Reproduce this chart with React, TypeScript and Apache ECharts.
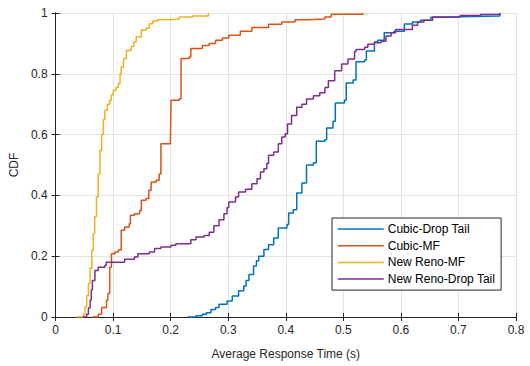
import React, { useEffect, useRef } from "react";
import * as echarts from "echarts";

const seriesNames = ["Cubic-Drop Tail", "Cubic-MF", "New Reno-MF", "New Reno-Drop Tail"];
const xTicks = [0, 0.1, 0.2, 0.3, 0.4, 0.5, 0.6, 0.7, 0.8];
const yTicks = [0, 0.2, 0.4, 0.6, 0.8, 1];

const cubicDropTailX = [0.229, 0.244, 0.255, 0.262, 0.27, 0.278, 0.284, 0.298, 0.307, 0.318, 0.327, 0.331, 0.336, 0.344, 0.349, 0.353, 0.362, 0.37, 0.379, 0.387, 0.402, 0.405, 0.413, 0.419, 0.428, 0.436, 0.448, 0.453, 0.468, 0.471, 0.482, 0.486, 0.502, 0.505, 0.517, 0.522, 0.537, 0.54, 0.554, 0.56, 0.571, 0.588, 0.606, 0.62, 0.634, 0.652, 0.686, 0.703, 0.772];
const cubicDropTailY = [0, 0.004, 0.009, 0.014, 0.025, 0.031, 0.042, 0.053, 0.069, 0.086, 0.102, 0.12, 0.14, 0.168, 0.185, 0.2, 0.222, 0.238, 0.26, 0.293, 0.304, 0.342, 0.353, 0.408, 0.441, 0.5, 0.507, 0.578, 0.583, 0.622, 0.644, 0.704, 0.713, 0.77, 0.78, 0.84, 0.845, 0.875, 0.905, 0.91, 0.935, 0.94, 0.964, 0.97, 0.976, 0.986, 0.988, 0.99, 1.0];

const cubicMfX = [0.063, 0.074, 0.08, 0.0885, 0.091, 0.094, 0.097, 0.103, 0.109, 0.114, 0.12, 0.128, 0.13, 0.137, 0.146, 0.149, 0.157, 0.162, 0.166, 0.175, 0.18, 0.183, 0.1995, 0.2006, 0.215, 0.218, 0.232, 0.235, 0.255, 0.267, 0.278, 0.29, 0.301, 0.321, 0.341, 0.37, 0.393, 0.416, 0.439, 0.468, 0.479, 0.534];
const cubicMfY = [0, 0.009, 0.031, 0.055, 0.077, 0.164, 0.208, 0.214, 0.22, 0.285, 0.296, 0.307, 0.335, 0.34, 0.35, 0.384, 0.39, 0.417, 0.444, 0.45, 0.47, 0.57, 0.576, 0.713, 0.718, 0.85, 0.855, 0.883, 0.893, 0.9, 0.91, 0.918, 0.927, 0.94, 0.952, 0.963, 0.97, 0.978, 0.98, 0.987, 0.996, 1.0];

const newRenoMfX = [0.037, 0.049, 0.051, 0.054, 0.057, 0.06, 0.063, 0.0655, 0.068, 0.071, 0.074, 0.077, 0.08, 0.083, 0.0857, 0.09, 0.094, 0.097, 0.1, 0.105, 0.109, 0.112, 0.114, 0.118, 0.123, 0.1316, 0.136, 0.14, 0.149, 0.157, 0.163, 0.169, 0.1776, 0.1977, 0.215, 0.238, 0.2655];
const newRenoMfY = [0, 0.01, 0.033, 0.07, 0.11, 0.16, 0.22, 0.275, 0.33, 0.395, 0.47, 0.548, 0.6, 0.65, 0.68, 0.7, 0.713, 0.73, 0.745, 0.755, 0.768, 0.8, 0.822, 0.85, 0.877, 0.89, 0.905, 0.921, 0.943, 0.95, 0.965, 0.974, 0.978, 0.98, 0.987, 0.99, 1.0];

const newRenoDropTailX = [0.047, 0.054, 0.057, 0.06, 0.062, 0.064, 0.0684, 0.074, 0.0857, 0.088, 0.12, 0.137, 0.143, 0.163, 0.172, 0.183, 0.2006, 0.209, 0.235, 0.244, 0.258, 0.267, 0.275, 0.284, 0.2925, 0.298, 0.301, 0.3126, 0.318, 0.33, 0.341, 0.35, 0.356, 0.362, 0.367, 0.37, 0.379, 0.387, 0.393, 0.399, 0.403, 0.41, 0.419, 0.428, 0.436, 0.448, 0.459, 0.468, 0.474, 0.485, 0.497, 0.508, 0.5195, 0.522, 0.537, 0.5425, 0.554, 0.5655, 0.574, 0.583, 0.591, 0.62, 0.629, 0.64, 0.655, 0.703, 0.738, 0.772];
const newRenoDropTailY = [0, 0.009, 0.03, 0.055, 0.09, 0.12, 0.153, 0.164, 0.17, 0.18, 0.19, 0.197, 0.208, 0.214, 0.225, 0.23, 0.236, 0.241, 0.254, 0.263, 0.268, 0.279, 0.3, 0.32, 0.34, 0.36, 0.378, 0.395, 0.411, 0.42, 0.438, 0.455, 0.477, 0.488, 0.505, 0.532, 0.543, 0.57, 0.592, 0.603, 0.635, 0.663, 0.69, 0.7, 0.717, 0.728, 0.738, 0.755, 0.777, 0.81, 0.832, 0.849, 0.873, 0.88, 0.887, 0.897, 0.902, 0.907, 0.924, 0.935, 0.946, 0.96, 0.97, 0.976, 0.987, 0.992, 0.995, 1.0];

const colors = ["#0072BD", "#D95319", "#EDB120", "#7E2F8E"];
const FONT = "Liberation Sans";

function zip(xs: number[], ys: number[]) {
  return xs.map((x, i) => [x, ys[i]]);
}

export default function App() {
  const ref = useRef<HTMLDivElement>(null);
  useEffect(() => {
    if (!ref.current) return;
    const chart = echarts.init(ref.current, null, { renderer: "svg" });
    const dataSets = [
      zip(cubicDropTailX, cubicDropTailY),
      zip(cubicMfX, cubicMfY),
      zip(newRenoMfX, newRenoMfY),
      zip(newRenoDropTailX, newRenoDropTailY),
    ];
    const axisLine = { show: true, lineStyle: { color: "#262626", width: 1 } };
    chart.setOption({
      animation: false,
      backgroundColor: "#ffffff",
      textStyle: { fontFamily: FONT },
      grid: { left: 52, right: 14, top: 13, bottom: 49, containLabel: false },
      legend: {
        data: seriesNames,
        orient: "vertical",
        left: 332,
        top: 218,
        itemWidth: 46,
        itemHeight: 14,
        itemGap: 4.7,
        padding: [5, 6, 5, 5],
        backgroundColor: "#ffffff",
        borderColor: "#262626",
        borderWidth: 1,
        borderRadius: 0,
        itemStyle: { opacity: 0 },
        lineStyle: { width: 1.5 },
        textStyle: { fontFamily: FONT, fontSize: 12, color: "#000000", padding: [0, 0, 0, -1] },
      },
      xAxis: [
        {
          type: "value",
          min: 0,
          max: 0.8,
          interval: 0.1,
          name: "Average Response Time (s)",
          nameLocation: "middle",
          nameGap: 31,
          nameTextStyle: { fontFamily: FONT, fontSize: 12, color: "#262626" },
          axisLine,
          axisTick: { show: true, inside: true, length: 4, lineStyle: { color: "#262626" } },
          axisLabel: {
            fontFamily: FONT,
            fontSize: 12,
            color: "#262626",
            margin: 7,
            formatter: (v: number) => {
              const t = xTicks.find((k) => Math.abs(k - v) < 1e-9);
              return t === undefined ? "" : String(t);
            },
          },
          splitLine: { show: true, lineStyle: { color: "#e3e3e3", width: 1 } },
        },
        {
          type: "value",
          position: "top",
          min: 0,
          max: 0.8,
          interval: 0.1,
          axisLine,
          axisTick: { show: true, inside: true, length: 4, lineStyle: { color: "#262626" } },
          axisLabel: { show: false },
          splitLine: { show: false },
        },
      ],
      yAxis: [
        {
          type: "value",
          min: 0,
          max: 1,
          interval: 0.2,
          name: "CDF",
          nameLocation: "middle",
          nameGap: 32,
          nameTextStyle: { fontFamily: FONT, fontSize: 12, color: "#262626" },
          axisLine,
          axisTick: { show: true, inside: true, length: 4, lineStyle: { color: "#262626" } },
          axisLabel: {
            fontFamily: FONT,
            fontSize: 12,
            color: "#262626",
            margin: 8,
            formatter: (v: number) => {
              const t = yTicks.find((k) => Math.abs(k - v) < 1e-9);
              return t === undefined ? "" : String(t);
            },
          },
          splitLine: { show: true, lineStyle: { color: "#e3e3e3", width: 1 } },
        },
        {
          type: "value",
          position: "right",
          min: 0,
          max: 1,
          interval: 0.2,
          axisLine,
          axisTick: { show: true, inside: true, length: 4, lineStyle: { color: "#262626" } },
          axisLabel: { show: false },
          splitLine: { show: false },
        },
      ],
      series: seriesNames.map((name, i) => ({
        name,
        type: "line",
        step: "end",
        data: dataSets[i],
        symbol: "none",
        showSymbol: false,
        color: colors[i],
        lineStyle: { color: colors[i], width: 1.5 },
        z: 2 + i,
      })),
    });
    return () => chart.dispose();
  }, []);
  return (
    <div
      ref={ref}
      style={{ position: "fixed", left: 0, top: 0, width: 530, height: 366, background: "#fff" }}
    />
  );
}
